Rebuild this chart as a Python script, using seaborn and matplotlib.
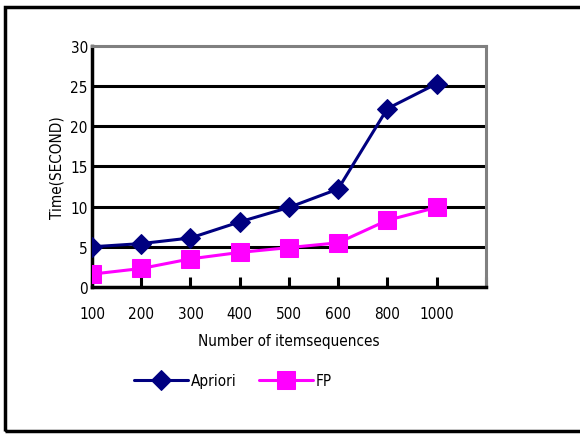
import pandas as pd
import matplotlib
matplotlib.use('Agg')
import matplotlib.pyplot as plt
import matplotlib.patches as mpatches
import seaborn as sns

# data
sizes = ['100', '200', '300', '400', '500', '600', '800', '1000']
apriori = [5.0, 5.4, 6.1, 8.1, 9.9, 12.2, 22.2, 25.3]
fp = [1.6, 2.3, 3.5, 4.3, 4.9, 5.5, 8.3, 9.9]

df = pd.DataFrame({'pos': range(len(sizes)), 'size': sizes,
                   'Apriori': apriori, 'FP': fp})

sns.set_theme(style='white')
plt.rcParams['font.family'] = ['DejaVu Sans']
plt.rcParams['font.stretch'] = 'condensed'
plt.rcParams['text.color'] = 'black'
plt.rcParams['axes.labelcolor'] = 'black'
plt.rcParams['xtick.color'] = 'black'
plt.rcParams['ytick.color'] = 'black'

fig = plt.figure(figsize=(5.8, 4.35), dpi=100)
ax = fig.add_axes([0.1586, 0.338, 0.679, 0.554])

# horizontal grid lines
for yv in [5, 10, 15, 20, 25]:
    ax.axhline(yv, color='black', lw=2.2, zorder=1)

sns.lineplot(data=df, x='pos', y='Apriori', ax=ax, color='#000080', lw=2.2,
             marker='D', markersize=10, markeredgecolor='#000080',
             label='Apriori', zorder=3)
sns.lineplot(data=df, x='pos', y='FP', ax=ax, color='#FF00FF', lw=2.2,
             marker='s', markersize=13, markeredgecolor='#FF00FF',
             label='FP', zorder=3)

ax.set_xlim(0, len(sizes))
ax.set_ylim(0, 30)
ax.set_xticks(range(len(sizes) + 1))
ax.set_xticklabels(sizes + [''])
ax.set_yticks(range(0, 31, 5))
ax.tick_params(axis='x', bottom=True, direction='in', length=7, width=2.2,
               color='black', pad=14, labelsize=11)
ax.tick_params(axis='y', left=False, length=0, pad=3, labelsize=11)

for side in ['left', 'bottom']:
    ax.spines[side].set_color('black')
    ax.spines[side].set_linewidth(2.5)
for side in ['top', 'right']:
    ax.spines[side].set_color('#808080')
    ax.spines[side].set_linewidth(2.2)

ax.set_xlabel('Number of itemsequences', fontsize=11, labelpad=8)
ax.set_ylabel('Time(SECOND)', fontsize=11, labelpad=4)

ax.legend(loc='center', bbox_to_anchor=(0.402, 0.122),
          bbox_transform=fig.transFigure, ncol=2, frameon=False,
          fontsize=11, handlelength=3.5, columnspacing=1.5, handletextpad=0.2)

# outer chart border
fig.patches.append(mpatches.Rectangle((0.009, 0.007), 1.2, 0.975,
                                      transform=fig.transFigure, fill=False,
                                      edgecolor='black', lw=2.5))

fig.savefig('out.png', dpi=100)
